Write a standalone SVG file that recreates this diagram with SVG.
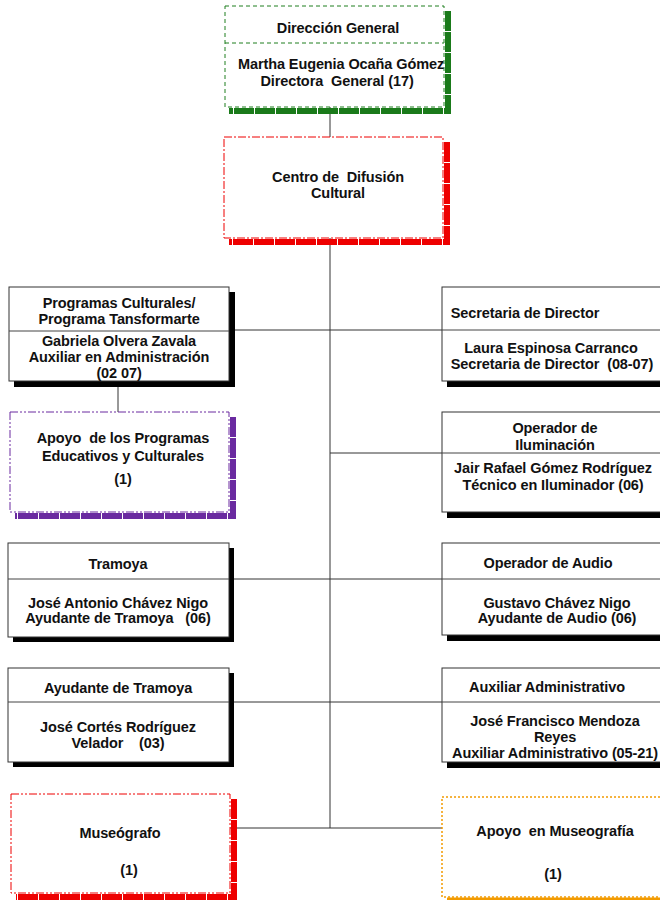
<svg xmlns="http://www.w3.org/2000/svg" width="660" height="900" viewBox="0 0 660 900">
<style>
text{font-family:"Liberation Sans",Arial,sans-serif;font-weight:bold;font-size:14.5px;fill:#111;text-anchor:middle;white-space:pre;letter-spacing:-0.1px}
.conn line{stroke:#333;stroke-width:1}
.box{fill:#fff;stroke:#333;stroke-width:1}
.sh{fill:#000}
.div{stroke:#444;stroke-width:1}
</style>
<rect width="660" height="900" fill="#fff"/>
<g id="connectors" class="conn">
<line x1="330" y1="107" x2="330" y2="828"/>
<line x1="229" y1="330" x2="442" y2="330"/>
<line x1="118" y1="381" x2="118" y2="412"/>
<line x1="330" y1="453" x2="442" y2="453"/>
<line x1="229" y1="579" x2="442" y2="579"/>
<line x1="229" y1="702" x2="442" y2="702"/>
<line x1="230" y1="828" x2="442" y2="828"/>
</g>

<g id="direccion">
<path d="M448 11 V111 H229" fill="none" stroke="#1a7a1a" stroke-width="6" stroke-dasharray="20,1"/>
<rect x="225" y="6" width="219" height="101" fill="#fff" stroke="#1f7f1f" stroke-dasharray="4,3"/>
<line x1="225" y1="43" x2="444" y2="43" stroke="#1f7f1f" stroke-dasharray="4,3"/>
<text x="338" y="33">Dirección General</text>
<text x="341" y="69">Martha Eugenia Ocaña Gómez</text>
<text x="337" y="86">Directora  General (17)</text>
</g>

<g id="centro">
<path d="M447 142 V242 H229" fill="none" stroke="#e00" stroke-width="6" stroke-dasharray="20,1"/>
<rect x="224" y="137" width="219" height="101" fill="#fff" stroke="#e00" stroke-dasharray="8,2,2,2"/>
<text x="338" y="182">Centro de  Difusión</text>
<text x="338" y="198">Cultural</text>
</g>

<g id="programas">
<rect class="sh" x="14" y="292" width="221" height="95"/>
<rect class="box" x="9" y="287" width="220" height="94"/>
<line class="div" x1="9" y1="331" x2="229" y2="331"/>
<text x="119" y="308">Programas Culturales/</text>
<text x="119" y="324">Programa Tansformarte</text>
<text x="119" y="346">Gabriela Olvera Zavala</text>
<text x="119" y="362">Auxiliar en Administración</text>
<text x="119" y="378">(02 07)</text>
</g>

<g id="secretaria">
<rect class="sh" x="447" y="292" width="221" height="95"/>
<rect class="box" x="442" y="287" width="220" height="94"/>
<line class="div" x1="442" y1="330" x2="662" y2="330"/>
<text x="525" y="318">Secretaria de Director</text>
<text x="551" y="353">Laura Espinosa Carranco</text>
<text x="552" y="369">Secretaria de Director  (08-07)</text>
</g>

<g id="apoyo-programas">
<path d="M233 417 V516 H15" fill="none" stroke="#6a2aa0" stroke-width="6" stroke-dasharray="20,1"/>
<rect x="10" y="412" width="219" height="100" fill="#fff" stroke="#6a2aa0" stroke-dasharray="8,2,2,2,2,2"/>
<text x="123" y="443">Apoyo  de los Programas</text>
<text x="123" y="461">Educativos y Culturales</text>
<text x="123" y="484">(1)</text>
</g>

<g id="iluminacion">
<rect class="sh" x="447" y="417" width="221" height="101"/>
<rect class="box" x="442" y="412" width="220" height="100"/>
<line class="div" x1="442" y1="453" x2="662" y2="453"/>
<text x="555" y="433">Operador de</text>
<text x="555" y="450">Iluminación</text>
<text x="553" y="473">Jair Rafael Gómez Rodríguez</text>
<text x="553" y="490">Técnico en Iluminador (06)</text>
</g>

<g id="tramoya">
<rect class="sh" x="13" y="548" width="221" height="94"/>
<rect class="box" x="8" y="543" width="221" height="94"/>
<line class="div" x1="8" y1="579" x2="229" y2="579"/>
<text x="118" y="569">Tramoya</text>
<text x="118" y="608">José Antonio Chávez Nigo</text>
<text x="118" y="623">Ayudante de Tramoya   (06)</text>
</g>

<g id="audio">
<rect class="sh" x="447" y="548" width="221" height="93"/>
<rect class="box" x="442" y="543" width="220" height="92"/>
<line class="div" x1="442" y1="579" x2="662" y2="579"/>
<text x="548" y="568">Operador de Audio</text>
<text x="557" y="608">Gustavo Chávez Nigo</text>
<text x="557" y="623">Ayudante de Audio (06)</text>
</g>

<g id="ayudante-tramoya">
<rect class="sh" x="13" y="673" width="221" height="94"/>
<rect class="box" x="8" y="668" width="221" height="94"/>
<line class="div" x1="8" y1="702" x2="229" y2="702"/>
<text x="118" y="693">Ayudante de Tramoya</text>
<text x="118" y="732">José Cortés Rodríguez</text>
<text x="118" y="748">Velador    (03)</text>
</g>

<g id="auxiliar">
<rect class="sh" x="447" y="673" width="221" height="95"/>
<rect class="box" x="442" y="668" width="220" height="94"/>
<line class="div" x1="442" y1="702" x2="662" y2="702"/>
<text x="547" y="692">Auxiliar Administrativo</text>
<text x="555" y="726">José Francisco Mendoza</text>
<text x="555" y="742">Reyes</text>
<text x="555" y="758">Auxiliar Administrativo (05-21)</text>
</g>

<g id="museografo">
<path d="M234 799 V897 H16" fill="none" stroke="#e00" stroke-width="6" stroke-dasharray="20,1"/>
<rect x="11" y="794" width="219" height="99" fill="#fff" stroke="#e00" stroke-dasharray="8,2,2,2,2,2"/>
<text x="120" y="838">Museógrafo</text>
<text x="129" y="875">(1)</text>
</g>

<g id="apoyo-museografia">
<path d="M447 899 H662" fill="none" stroke="#f29a00" stroke-width="3"/>
<rect x="442" y="797" width="222" height="100" fill="#fff" stroke="#f29a00" stroke-width="1.5" stroke-dasharray="2,2"/>
<text x="555" y="836">Apoyo  en Museografía</text>
<text x="553" y="879">(1)</text>
</g>
</svg>
